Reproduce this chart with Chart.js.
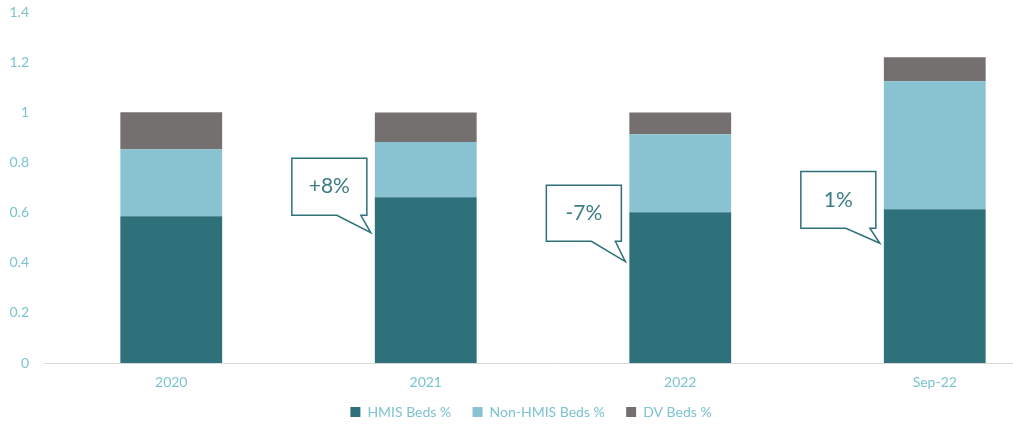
<!DOCTYPE html>
<html>
<head>
<meta charset="utf-8">
<script src="https://cdn.jsdelivr.net/npm/chart.js@4.4.1/dist/chart.umd.min.js"></script>
<style>
	html, body { margin: 0; padding: 0; background: #fff; overflow: hidden; }
	#wrap { width: 1085px; height: 436px; margin-top: -11px; }
</style>
</head>
<body>
<div id="wrap"><canvas id="BedsChart"></canvas></div>
<script>

// DATA
const categories = ["2020", "2021", "2022", "Sep-22"];
const hmisBeds = [0.586, 0.662, 0.602, 0.614];
const nonHmisBeds = [0.268, 0.220, 0.311, 0.511];
const dvBeds = [0.147, 0.118, 0.087, 0.096];

// callouts: category index, text, box top/bottom and tip in axis values
const calloutCategory = [1, 2, 3];
const calloutText = ["+8%", "-7%", "1%"];
const calloutTop = [0.818, 0.710, 0.765];
const calloutBottom = [0.590, 0.486, 0.538];
const calloutTip = [0.520, 0.405, 0.478];

const teal = "#2e717b";
const labelColor = "#7cc3cf";
const FONT = "Lato, 'Open Sans', sans-serif";


// CALLOUT PLUGIN
const calloutPlugin = {
	id: "callouts",
	afterDatasetsDraw(chart) {
		const ctx = chart.ctx;
		const y = chart.scales.y;
		const meta = chart.getDatasetMeta(0);

		ctx.save();
		for (let i = 0; i < calloutText.length; i++) {
			const bar = meta.data[calloutCategory[i]];
			const barLeft = bar.x - bar.width / 2;
			const right = barLeft - 8;
			const left = right - 75;
			const top = y.getPixelForValue(calloutTop[i]);
			const bottom = y.getPixelForValue(calloutBottom[i]);
			const tipY = y.getPixelForValue(calloutTip[i]);
			const tipX = barLeft - 4;

			ctx.beginPath();
			ctx.moveTo(left, top);
			ctx.lineTo(right, top);
			ctx.lineTo(right, bottom);
			ctx.lineTo(right - 6, bottom);
			ctx.lineTo(tipX, tipY);
			ctx.lineTo(right - 30, bottom);
			ctx.lineTo(left, bottom);
			ctx.closePath();
			ctx.fillStyle = "#fff";
			ctx.fill();
			ctx.lineWidth = 1.5;
			ctx.strokeStyle = teal;
			ctx.stroke();

			ctx.fillStyle = "#3d7d86";
			ctx.font = "21px " + FONT;
			ctx.textAlign = "center";
			ctx.textBaseline = "middle";
			ctx.fillText(calloutText[i], (left + right) / 2, (top + bottom) / 2);
		}
		ctx.restore();
	},
};


const chart = new Chart(document.getElementById("BedsChart"), {
	type: "bar",
	plugins: [calloutPlugin],
	data: {
		labels: categories,
		datasets: [
			{ label: "HMIS Beds %", data: hmisBeds, backgroundColor: "#2e717b" },
			{ label: "Non-HMIS Beds %", data: nonHmisBeds, backgroundColor: "#89c2d0" },
			{ label: "DV Beds %", data: dvBeds, backgroundColor: "#757070" },
		],
	},
	options: {
		responsive: true,
		maintainAspectRatio: false,
		animation: false,
		categoryPercentage: 1,
		barPercentage: 0.4,
		layout: { padding: { top: 0, right: 23, left: 0, bottom: -4 } },
		plugins: {
			tooltip: { enabled: false },
			legend: {
				position: "bottom",
				labels: {
					boxWidth: 10,
					boxHeight: 10,
					padding: 7,
					color: labelColor,
					font: { family: FONT, size: 14 },
					generateLabels(chart) {
						const items = Chart.defaults.plugins.legend.labels.generateLabels(chart);
						items.forEach((it, i) => {
							if (i < items.length - 1) it.text = it.text + "    ";
						});
						return items;
					},
				},
			},
		},
		scales: {
			x: {
				stacked: true,
				afterFit(scale) { scale.height = 35; },
				grid: { display: false, drawTicks: false },
				border: { color: "#d9d9d9" },
				ticks: { color: labelColor, font: { family: FONT, size: 14 }, padding: 11 },
			},
			y: {
				stacked: true,
				min: 0,
				max: 1.4,
				afterFit(scale) { scale.width = 44; },
				grid: { display: false, drawTicks: false },
				border: { display: false },
				ticks: {
					stepSize: 0.2,
					color: labelColor,
					padding: 15,
					font: { family: FONT, size: 14 },
					callback: (v) => Number(v.toFixed(1)).toString(),
				},
			},
		},
	},
});
</script>
</body>
</html>
